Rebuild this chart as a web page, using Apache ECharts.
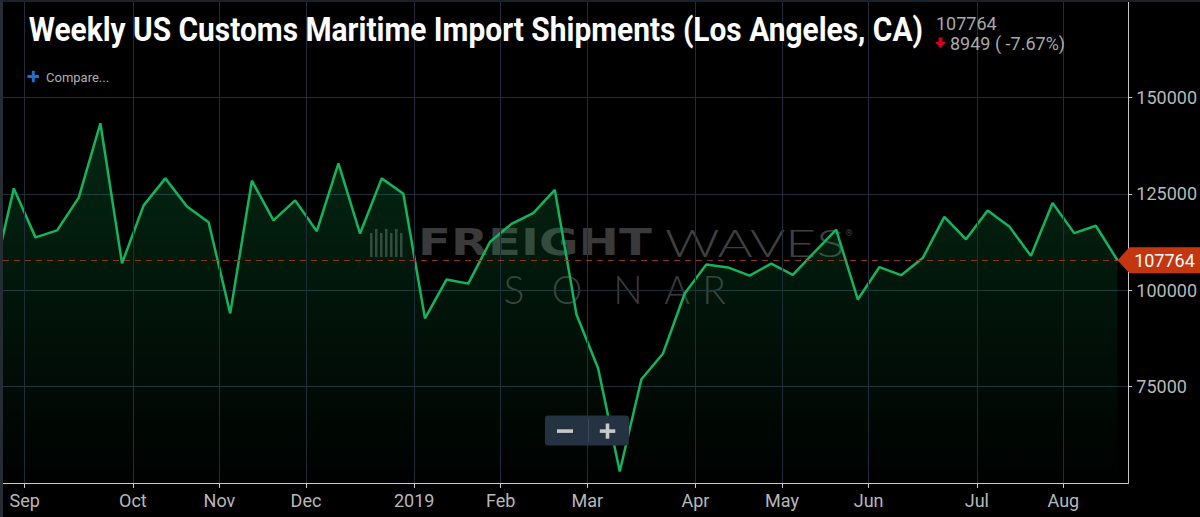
<!DOCTYPE html>
<html><head><meta charset="utf-8">
<script src="https://cdn.jsdelivr.net/npm/echarts@6/dist/echarts.min.js"></script>
<style>html,body{margin:0;padding:0;background:#000;overflow:hidden}#c{width:1200px;height:517px}</style>
</head><body><div id="c"></div>
<script>
// ---- data ----
const titleText = 'Weekly US Customs Maritime Import Shipments (Los Angeles, CA)';
const lastLabel = '107764';
const changeLabel = '8949 ( -7.67%)';
// weekly shipments, oldest first (first week lies partly left of the view)
const shipments = [
  102000, 126400, 113700, 115500, 124000, 143300, 107000, 122000, 129000, 121700,
  117600, 94000, 128400, 118100, 123300, 115300, 132900, 114700, 129000, 125000,
  92700, 102800, 101700, 112500, 117200, 120000, 126000, 93700, 79750, 53000,
  76900, 83600, 99150, 106650, 105900, 103800, 106900, 104000, 109900, 115700,
  97600, 106000, 103900, 108350, 119000, 113200, 120700, 116550, 108900, 122600,
  114800, 116713, 107764
];
// month ticks sit between weekly points (week index units)
const monthTickPos = [1.5, 6.5, 10.5, 14.5, 19.5, 23.5, 27.5, 32.5, 36.5, 40.5, 45.5, 49.5];
const monthLabels = ['Sep', 'Oct', 'Nov', 'Dec', '2019', 'Feb', 'Mar', 'Apr', 'May', 'Jun', 'Jul', 'Aug'];
const yTicks = [75000, 100000, 125000, 150000];

// ---- helpers ----
const mctx = document.createElement('canvas').getContext('2d');
function fitScale(text, font, width) {
  mctx.font = font;
  const w = mctx.measureText(text).width;
  return w > 0 ? width / w : 1;
}

const points = shipments.map((v, i) => [i, v]);
const lastIndex = shipments.length - 1;
const lastValue = shipments[lastIndex];
const gridColor = '#1f2d3a';
const axisColor = '#c8c8c8';
const labelColor = '#b8b8b8';

const titleFont = 'bold 33px Roboto';
const wmBold = 'bold 38px "DejaVu Sans"';
const wmThin = '300 38px Lato';

const chart = echarts.init(document.getElementById('c'), null, {renderer: 'svg', width: 1200, height: 517});

const logoBars = [];
[0, 5, 10, 15, 20, 25, 30].forEach((dx, k) => {
  logoBars.push({type: 'rect', z: 0, silent: true,
    shape: {x: 370 + dx, y: 229 + (k % 2 ? 0 : 4), width: 2.5, height: 28 - (k % 2 ? 0 : 4)},
    style: {fill: '#3a3a3a'}});
});

const sonarLetters = [['S', 514], ['O', 567], ['N', 628], ['A', 677], ['R', 714]];

const option = {
  backgroundColor: '#000',
  animation: false,
  grid: {left: 3, right: 71, top: 1, bottom: 34},
  xAxis: {
    type: 'value', min: 0.5, max: 52.5,
    axisLine: {show: true, lineStyle: {color: axisColor, width: 1}},
    axisTick: {show: true, length: 5, lineStyle: {color: axisColor}, customValues: monthTickPos},
    axisLabel: {
      customValues: monthTickPos, margin: 8, color: labelColor, fontSize: 18, fontFamily: 'Roboto',
      formatter: v => { const k = monthTickPos.indexOf(v); return k >= 0 ? monthLabels[k] : ''; }
    },
    splitLine: {show: false}
  },
  yAxis: {
    type: 'value', position: 'right', min: 50000, max: 175000, interval: 25000,
    axisLine: {show: true, lineStyle: {color: axisColor, width: 1}},
    axisTick: {show: true, length: 4, lineStyle: {color: axisColor}},
    axisLabel: {
      margin: 8, color: labelColor, fontSize: 18, fontFamily: 'Roboto',
      showMinLabel: false, showMaxLabel: false,
      formatter: v => yTicks.indexOf(v) >= 0 ? String(v) : ''
    },
    splitLine: {show: true, lineStyle: {color: gridColor, width: 1}}
  },
  series: [
    {
      type: 'line', data: [], silent: true, z: 1,
      markLine: {
        silent: true, symbol: 'none', animation: false, label: {show: false},
        lineStyle: {color: gridColor, type: 'solid', width: 1},
        data: monthTickPos.map(p => ({xAxis: p}))
      }
    },
    {
      type: 'line', data: points, z: 2, clip: true,
      showSymbol: false, symbol: 'none',
      lineStyle: {color: '#12b45e', width: 2.5},
      itemStyle: {color: '#12b45e'},
      areaStyle: {
        color: new echarts.graphic.LinearGradient(0, 0, 0, 1, [
          {offset: 0, color: 'rgba(14,170,80,0.34)'},
          {offset: 0.5, color: 'rgba(14,170,80,0.17)'},
          {offset: 1, color: 'rgba(14,170,80,0.01)'}
        ])
      },
      markLine: {
        silent: true, symbol: 'none', animation: false, label: {show: false},
        lineStyle: {color: '#8c3418', type: [6, 5], width: 1},
        data: [{yAxis: lastValue}]
      },
      markPoint: {
        silent: true, animation: false,
        symbol: 'path://M0,13L12,0L84,0L84,26L12,26Z',
        symbolSize: [84, 26], symbolKeepAspect: false, symbolOffset: [42, 0],
        itemStyle: {color: '#c4360f'},
        label: {show: true, color: '#fff', fontSize: 18, fontFamily: 'Roboto', offset: [5, 0], formatter: '{c}'},
        data: [{coord: [lastIndex, lastValue], value: lastValue}]
      }
    }
  ],
  graphic: {
    elements: [
      // frame
      {type: 'rect', z: 100, silent: true, shape: {x: 0, y: 0, width: 1200, height: 2}, style: {fill: '#18222c'}},
      {type: 'rect', z: 100, silent: true, shape: {x: 0, y: 0, width: 3, height: 517}, style: {fill: '#262c33'}},
      // watermark
      ...logoBars,
      {type: 'text', z: 0, silent: true, x: 418, y: 242, scaleX: fitScale('FREIGHT', wmBold, 234),
        style: {text: 'FREIGHT', font: wmBold, fill: '#3a3a3a', align: 'left', verticalAlign: 'middle'}},
      {type: 'text', z: 0, silent: true, x: 665, y: 242, scaleX: fitScale('WAVES', wmThin, 180),
        style: {text: 'WAVES', font: wmThin, fill: '#404040', align: 'left', verticalAlign: 'middle'}},
      {type: 'text', z: 0, silent: true, x: 849, y: 233,
        style: {text: '®', font: '9px Roboto', fill: '#404040', align: 'center', verticalAlign: 'middle'}},
      ...sonarLetters.map(([t, x]) => ({type: 'text', z: 0, silent: true, x: x, y: 289,
        style: {text: t, font: '300 39px Lato', fill: '#3a3a3a', align: 'center', verticalAlign: 'middle'}})),
      // title
      {type: 'text', z: 100, x: 28.7, y: 30, scaleX: fitScale(titleText, titleFont, 895),
        style: {text: titleText, font: titleFont, fill: '#ffffff', align: 'left', verticalAlign: 'middle'}},
      {type: 'text', z: 100, x: 936, y: 23,
        style: {text: lastLabel, font: '18px Roboto', fill: '#a9a9a9', align: 'left', verticalAlign: 'middle'}},
      {type: 'polygon', z: 100, silent: true,
        shape: {points: [[938.5, 37.5], [942.5, 37.5], [942.5, 42], [946, 42], [940.5, 48.5], [935, 42], [938.5, 42]]},
        style: {fill: '#d0021b'}},
      {type: 'text', z: 100, x: 950, y: 43.5,
        style: {text: changeLabel, font: '18px Roboto', fill: '#a9a9a9', align: 'left', verticalAlign: 'middle'}},
      // compare
      {type: 'rect', z: 100, silent: true, shape: {x: 27.5, y: 75, width: 11.5, height: 3}, style: {fill: '#1e6fd0'}},
      {type: 'rect', z: 100, silent: true, shape: {x: 31.8, y: 70.8, width: 3, height: 11.5}, style: {fill: '#1e6fd0'}},
      {type: 'text', z: 100, x: 46, y: 77,
        style: {text: 'Compare...', font: '13px Roboto', fill: '#b0b0b0', align: 'left', verticalAlign: 'middle'}},
      // zoom buttons
      {type: 'rect', z: 100, silent: true, shape: {x: 545, y: 415.5, width: 84, height: 30, r: 3}, style: {fill: '#243242'}},
      {type: 'rect', z: 101, silent: true, shape: {x: 588, y: 419, width: 1, height: 23}, style: {fill: '#3a4858'}},
      {type: 'rect', z: 101, silent: true, shape: {x: 557, y: 429.3, width: 16, height: 3.6}, style: {fill: '#c8c8c8'}},
      {type: 'rect', z: 101, silent: true, shape: {x: 599.8, y: 429.3, width: 15.5, height: 3.6}, style: {fill: '#c8c8c8'}},
      {type: 'rect', z: 101, silent: true, shape: {x: 605.7, y: 423.5, width: 3.6, height: 15.2}, style: {fill: '#c8c8c8'}}
    ]
  }
};
chart.setOption(option);
</script>
</body></html>
